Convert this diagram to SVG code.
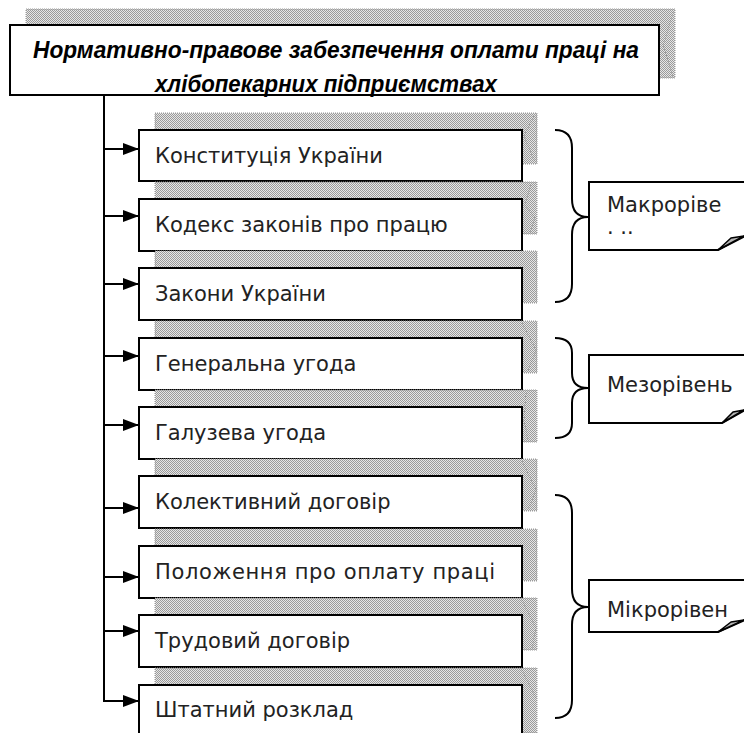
<svg xmlns="http://www.w3.org/2000/svg" width="744" height="733" viewBox="0 0 744 733">
  <defs>
    <pattern id="chk" width="2" height="2" patternUnits="userSpaceOnUse">
      <rect width="2" height="2" fill="#e6e6e6"/>
      <rect width="1" height="1" fill="#9a9a9a"/>
      <rect x="1" y="1" width="1" height="1" fill="#9a9a9a"/>
    </pattern>
    <marker id="arr" markerWidth="16" markerHeight="12" refX="16" refY="6" orient="auto" markerUnits="userSpaceOnUse">
      <path d="M0,0 L16,6 L0,12 Z" fill="#000"/>
    </marker>
  </defs>
  <style>
    .shadow { fill: url(#chk); stroke: #999; stroke-width: 1; stroke-dasharray: 1 1; }
    .bevel { fill: none; stroke: #888; stroke-width: 1; stroke-dasharray: 1 2; }
    .box { fill: #fff; stroke: #000; stroke-width: 2; }
    .lbl { font-family: "DejaVu Sans", "Liberation Sans", sans-serif; font-size: 21px; fill: #222; }
    .title { font-family: "Liberation Sans", "DejaVu Sans", sans-serif; font-size: 23px; font-weight: bold; font-style: italic; fill: #000; text-anchor: middle; }
    .conn { fill: none; stroke: #000; stroke-width: 2; }
    .brace { fill: none; stroke: #000; stroke-width: 2; }
    .note { fill: #fff; stroke: #000; stroke-width: 2; }
    .fold { fill: #b5b5b5; stroke: #000; stroke-width: 1.5; stroke-linejoin: round; }
  </style>

  <g id="title">
    <rect class="shadow" x="26" y="9" width="649" height="69"/>
    <path class="bevel" d="M673,12 L663,45 L673,76"/>
    <rect class="box" x="10" y="25" width="649" height="70"/>
    <text class="title" x="336" y="58" textLength="606" lengthAdjust="spacingAndGlyphs">Нормативно-правове забезпечення оплати праці на</text>
    <text class="title" x="326" y="92" textLength="342" lengthAdjust="spacingAndGlyphs">хлібопекарних підприємствах</text>
  </g>

  <g id="connectors">
    <line class="conn" x1="104" y1="95" x2="104" y2="701"/>
    <line class="conn" x1="103" y1="149" x2="139" y2="149" marker-end="url(#arr)"/>
    <line class="conn" x1="103" y1="216" x2="139" y2="216" marker-end="url(#arr)"/>
    <line class="conn" x1="103" y1="284" x2="139" y2="284" marker-end="url(#arr)"/>
    <line class="conn" x1="103" y1="356" x2="139" y2="356" marker-end="url(#arr)"/>
    <line class="conn" x1="103" y1="425" x2="139" y2="425" marker-end="url(#arr)"/>
    <line class="conn" x1="103" y1="508" x2="139" y2="508" marker-end="url(#arr)"/>
    <line class="conn" x1="103" y1="577" x2="139" y2="577" marker-end="url(#arr)"/>
    <line class="conn" x1="103" y1="631" x2="139" y2="631" marker-end="url(#arr)"/>
    <line class="conn" x1="103" y1="701" x2="139" y2="701" marker-end="url(#arr)"/>
  </g>

  <g id="n1">
    <rect class="shadow" x="155" y="113" width="382" height="51"/>
    <path class="bevel" d="M534,116 L524,136 L535,162"/>
    <rect class="box" x="139" y="130" width="383" height="51"/>
    <text class="lbl" x="155" y="163">Конституція України</text>
  </g>
  <g id="n2">
    <rect class="shadow" x="155" y="182" width="382" height="52"/>
    <path class="bevel" d="M531,185 L525,205 L535,218 L530,232"/>
    <rect class="box" x="139" y="199" width="383" height="52"/>
    <text class="lbl" x="155" y="232">Кодекс законів про працю</text>
  </g>
  <g id="n3">
    <rect class="shadow" x="155" y="251" width="382" height="52"/>
    <rect class="box" x="139" y="268" width="383" height="52"/>
    <text class="lbl" x="155" y="301">Закони України</text>
  </g>
  <g id="n4">
    <rect class="shadow" x="155" y="321" width="382" height="52"/>
    <path class="bevel" d="M522,323 L536,350 L528,371"/>
    <rect class="box" x="139" y="338" width="383" height="52"/>
    <text class="lbl" x="155" y="371">Генеральна угода</text>
  </g>
  <g id="n5">
    <rect class="shadow" x="155" y="390" width="382" height="52"/>
    <path class="bevel" d="M526,393 L524,420 L528,440"/>
    <rect class="box" x="139" y="407" width="383" height="52"/>
    <text class="lbl" x="155" y="440">Галузева угода</text>
  </g>
  <g id="n6">
    <rect class="shadow" x="155" y="459" width="382" height="52"/>
    <path class="bevel" d="M522,461 L536,490 L528,510"/>
    <rect class="box" x="139" y="476" width="383" height="52"/>
    <text class="lbl" x="155" y="509">Колективний договір</text>
  </g>
  <g id="n7">
    <rect class="shadow" x="155" y="529" width="382" height="52"/>
    <rect class="box" x="139" y="546" width="383" height="52"/>
    <text class="lbl" x="155" y="579" textLength="340" lengthAdjust="spacing">Положення про оплату праці</text>
  </g>
  <g id="n8">
    <rect class="shadow" x="155" y="598" width="382" height="52"/>
    <path class="bevel" d="M522,600 L536,628 L532,648"/>
    <rect class="box" x="139" y="615" width="383" height="52"/>
    <text class="lbl" x="155" y="648">Трудовий договір</text>
  </g>
  <g id="n9">
    <rect class="shadow" x="155" y="668" width="382" height="65"/>
    <path class="bevel" d="M522,670 L536,698"/>
    <rect class="box" x="139" y="685" width="383" height="60"/>
    <text class="lbl" x="155" y="717">Штатний розклад</text>
  </g>

  <g id="brace-macro">
    <path class="brace" d="M555,130 Q572,130 572,148 L572,199 Q572,217 588,217 Q572,217 572,235 L572,284 Q572,302 555,302"/>
  </g>
  <g id="brace-meso">
    <path class="brace" d="M555,338 Q572,338 572,353 L572,373 Q572,388 588,388 Q572,388 572,403 L572,423 Q572,438 555,438"/>
  </g>
  <g id="brace-micro">
    <path class="brace" d="M555,495 Q572,495 572,513 L572,589 Q572,607 588,607 Q572,607 572,625 L572,700 Q572,718 555,718"/>
  </g>

  <g id="note-macro">
    <path class="note" d="M745,182 L589,182 L589,250 L718,250 L745,236"/>
    <path class="fold" d="M718,250 L744,236 L731,238 Z"/>
    <text class="lbl" x="607" y="212">Макроріве</text>
    <text class="lbl" x="607" y="234">. ..</text>
  </g>
  <g id="note-meso">
    <path class="note" d="M745,355 L589,355 L589,423 L722,423 L745,410"/>
    <path class="fold" d="M722,423 L744,410 L733,412 Z"/>
    <text class="lbl" x="607" y="392">Мезорівень</text>
  </g>
  <g id="note-micro">
    <path class="note" d="M745,580 L589,580 L589,632 L718,632 L745,620"/>
    <path class="fold" d="M718,632 L744,620 L731,622 Z"/>
    <text class="lbl" x="607" y="617">Мікрорівен</text>
  </g>
</svg>
